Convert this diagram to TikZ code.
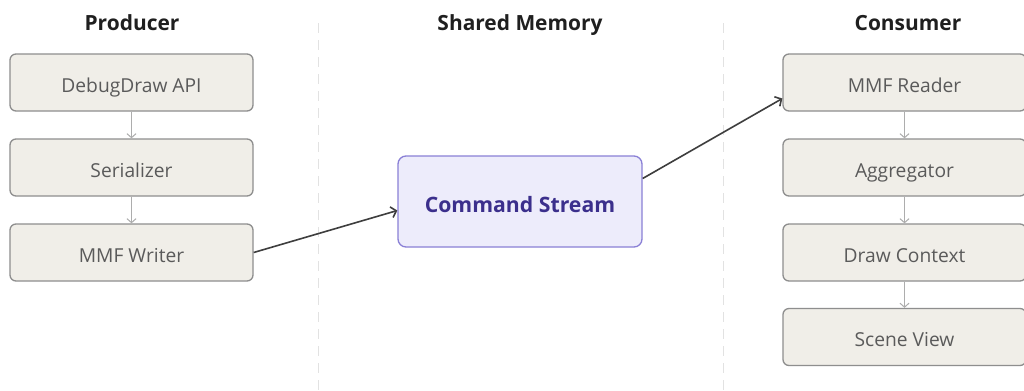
\documentclass[tikz,border=0pt]{standalone}
\usepackage{fontspec}
\setmainfont{Open Sans}
\usetikzlibrary{arrows.meta}
\definecolor{boxfill}{HTML}{F0EEE8}
\definecolor{boxline}{HTML}{8E8E8E}
\definecolor{boxtext}{HTML}{5A5A5A}
\definecolor{csfill}{HTML}{EDECFB}
\definecolor{csline}{HTML}{8A80D6}
\definecolor{cstext}{HTML}{3B2F8C}
\definecolor{sepcol}{HTML}{E2E2E2}
\definecolor{flowcol}{HTML}{ADADAD}
\definecolor{linkcol}{HTML}{3E3E3E}
\begin{document}
\begin{tikzpicture}[x=1bp,y=-1bp,
  stage/.style={draw=boxline, line width=1.3bp, fill=boxfill, rounded corners=6bp,
    minimum width=243bp, minimum height=57bp, inner sep=0pt,
    text height=19bp, text depth=0pt,
    font=\fontsize{19.3}{22}\selectfont, text=boxtext},
  hub/.style={draw=csline, line width=1.3bp, fill=csfill, rounded corners=8bp,
    minimum width=244bp, minimum height=91bp, inner sep=0pt,
    text height=21bp, text depth=0pt,
    font=\fontsize{21.3}{25}\selectfont\bfseries, text=cstext},
  lane/.style={font=\fontsize{21}{25}\selectfont\bfseries, text=black!88,
    text height=17bp, text depth=0pt, inner sep=0pt},
  flow/.style={draw=flowcol, line width=1bp, -{Straight Barb[length=4bp,width=9bp]}},
  link/.style={draw=linkcol, line width=1.6bp, -{Straight Barb[length=5bp,width=11bp]}},
  sepline/.style={draw=sepcol, line width=1bp, dash pattern=on 10bp off 7bp}]
\useasboundingbox (0,0) rectangle (1024,390);
\fill[white] (0,0) rectangle (1024,390);

\draw[sepline] (318,23) -- (318,390);
\draw[sepline] (723,23) -- (723,390);

\node[lane] (tp) at (132,22) {Producer};
\node[lane] (tm) at (520,22) {Shared Memory};
\node[lane] (tc) at (908,22) {Consumer};

\node[stage] (p1) at (131.5,82.5) {DebugDraw API};
\node[stage] (p2) at (131.5,167.5) {Serializer};
\node[stage] (p3) at (131.5,252.5) {MMF Writer};

\node[hub] (cs) at (520,201.5) {Command Stream};

\node[stage] (c1) at (904.5,82.5) {MMF Reader};
\node[stage] (c2) at (904.5,167.5) {Aggregator};
\node[stage] (c3) at (904.5,252.5) {Draw Context};
\node[stage] (c4) at (904.5,337) {Scene View};

\draw[flow] (p1) -- (p2);
\draw[flow] (p2) -- (p3);
\draw[flow] (c1) -- (c2);
\draw[flow] (c2) -- (c3);
\draw[flow] (c3) -- (c4);

\draw[link] (p3.east) -- ([yshift=-9bp]cs.west);
\draw[link] ([yshift=23bp]cs.east) -- ([yshift=-16bp]c1.west);
\end{tikzpicture}
\end{document}
